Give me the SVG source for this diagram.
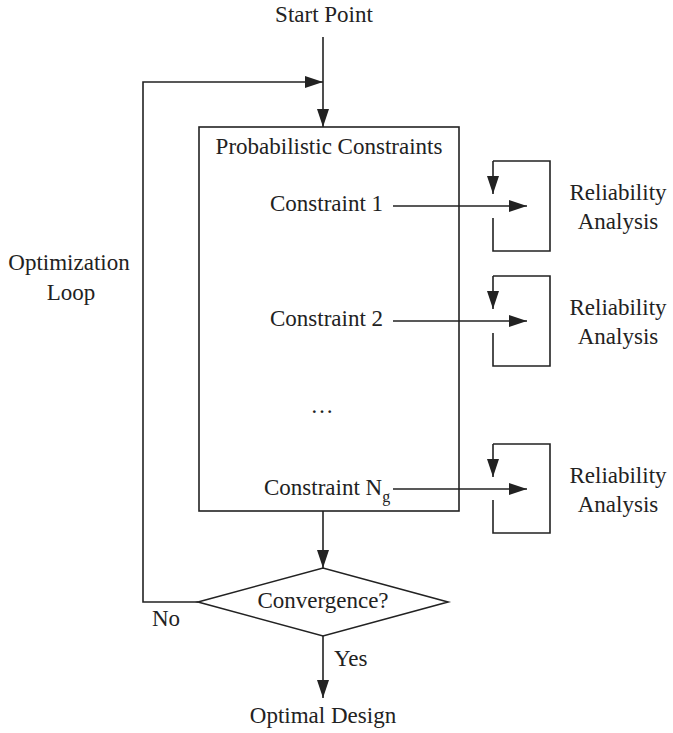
<svg xmlns="http://www.w3.org/2000/svg" width="673" height="733" viewBox="0 0 673 733">
<style>
text{font-family:"Liberation Serif","Times New Roman",serif;font-size:23px;fill:#222}
.c{text-anchor:middle}
.ln{fill:none;stroke:#222;stroke-width:1.6}
.sh{fill:#fff;stroke:#222;stroke-width:1.6}
</style>
<defs>
<marker id="ah" markerWidth="18" markerHeight="12" refX="18" refY="6" orient="auto" markerUnits="userSpaceOnUse">
<path d="M0,0 L18,6 L0,12 Z" fill="#222"/>
</marker>
</defs>
<rect width="673" height="733" fill="#fff"/>
<g id="start"><text class="c" x="324" y="22">Start Point</text></g>
<g id="constraints-box">
<rect class="sh" x="199" y="127" width="260" height="384"/>
<text class="c" x="329" y="154">Probabilistic Constraints</text>
<text x="270" y="211">Constraint 1</text>
<text x="270" y="326">Constraint 2</text>
<text class="c" x="322" y="413">…</text>
<text x="264" y="495">Constraint N<tspan font-size="16" dy="7">g</tspan></text>
</g>
<g id="reliability1">
<polyline class="ln" points="493,218 493,251 550,251 550,161 493,161"/>
<text class="c" x="618" y="200">Reliability</text>
<text class="c" x="618" y="229">Analysis</text>
</g>
<g id="reliability2">
<polyline class="ln" points="493,333 493,366 550,366 550,276 493,276"/>
<text class="c" x="618" y="315">Reliability</text>
<text class="c" x="618" y="344">Analysis</text>
</g>
<g id="reliability3">
<polyline class="ln" points="493,500 493,533 550,533 550,444 493,444"/>
<text class="c" x="618" y="483">Reliability</text>
<text class="c" x="618" y="512">Analysis</text>
</g>
<g id="convergence">
<polygon class="sh" points="198,602 323,568 448,602 323,636"/>
<text class="c" x="323" y="608">Convergence?</text>
</g>
<g id="optimal"><text class="c" x="323" y="723">Optimal Design</text></g>
<g id="connectors">
<line class="ln" x1="323" y1="37" x2="323" y2="127" marker-end="url(#ah)"/>
<polyline class="ln" points="198,602 143,602 143,82 323,82" marker-end="url(#ah)"/>
<line class="ln" x1="393" y1="206" x2="527" y2="206" marker-end="url(#ah)"/>
<line class="ln" x1="393" y1="321" x2="527" y2="321" marker-end="url(#ah)"/>
<line class="ln" x1="393" y1="489" x2="527" y2="489" marker-end="url(#ah)"/>
<line class="ln" x1="493" y1="161" x2="493" y2="194" marker-end="url(#ah)"/>
<line class="ln" x1="493" y1="276" x2="493" y2="309" marker-end="url(#ah)"/>
<line class="ln" x1="493" y1="444" x2="493" y2="477" marker-end="url(#ah)"/>
<line class="ln" x1="323" y1="511" x2="323" y2="568" marker-end="url(#ah)"/>
<line class="ln" x1="323" y1="636" x2="323" y2="698" marker-end="url(#ah)"/>
<text class="c" x="69" y="270">Optimization</text>
<text class="c" x="71" y="300">Loop</text>
<text x="152" y="626">No</text>
<text x="334" y="666">Yes</text>
</g>
</svg>
